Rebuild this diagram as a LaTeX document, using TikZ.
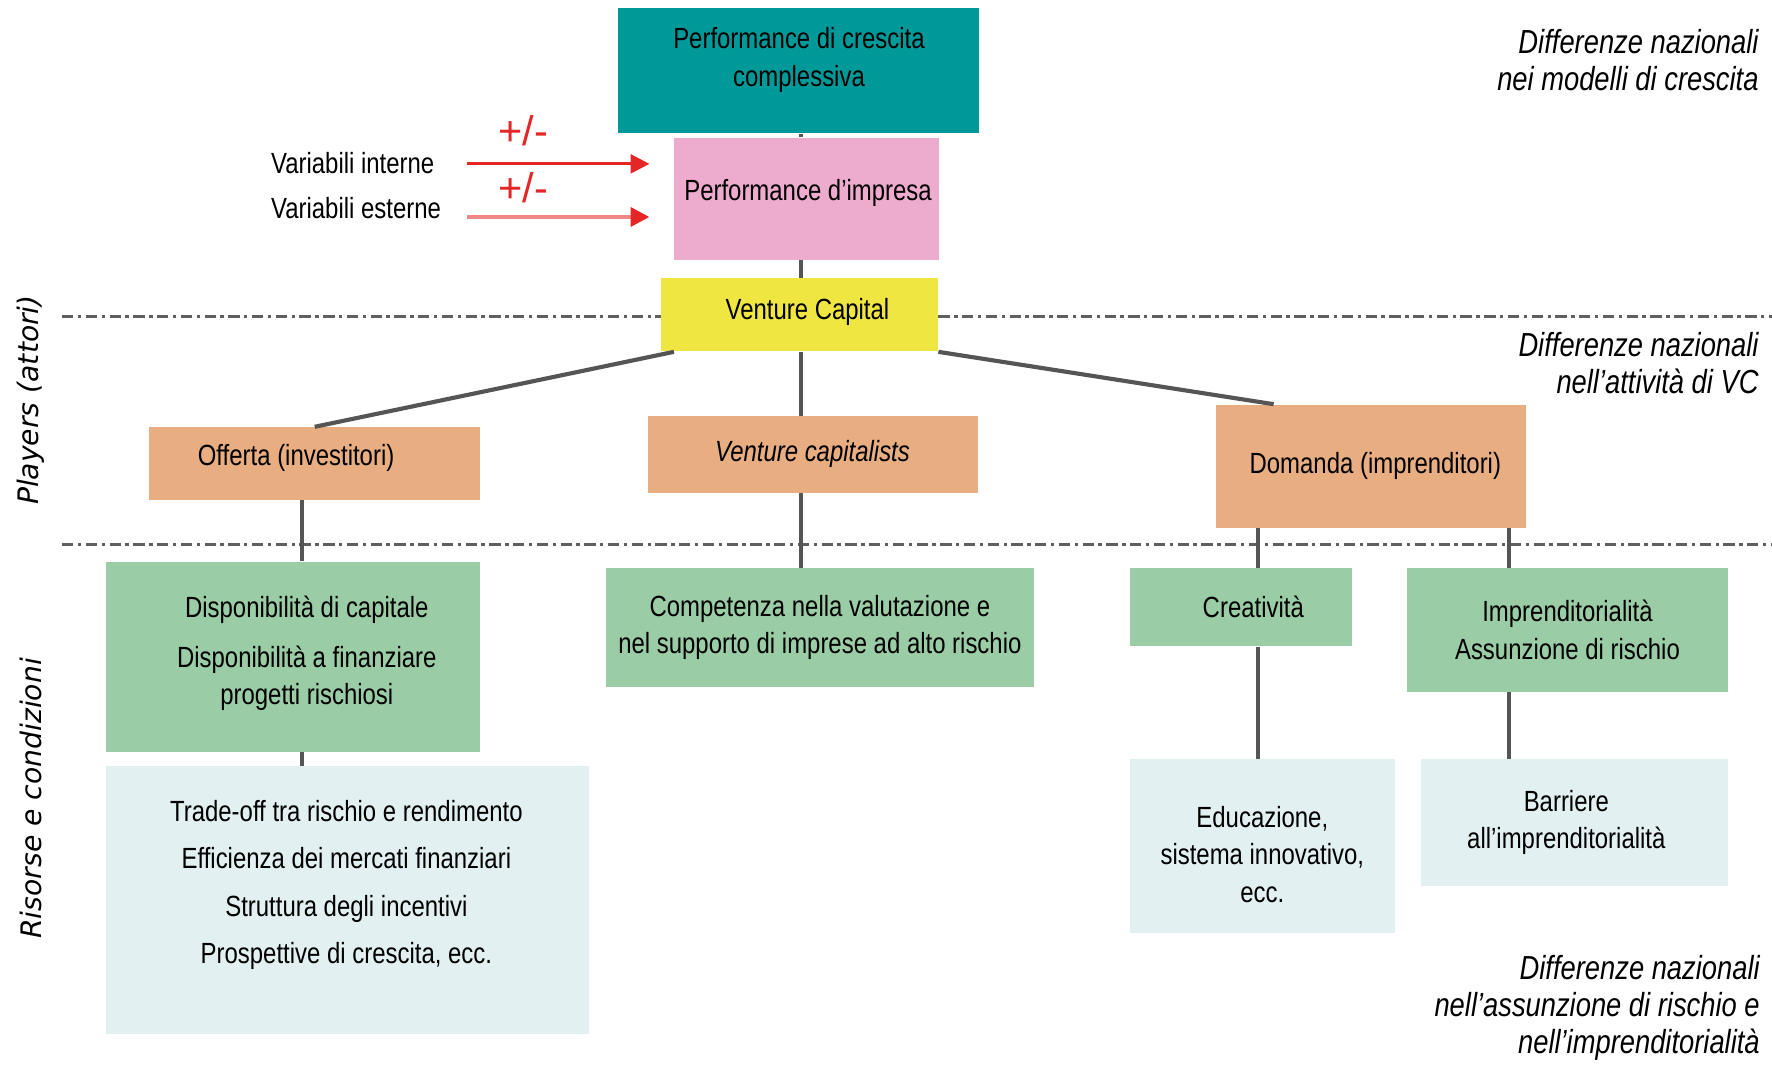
\documentclass[tikz,border=0pt]{standalone}
\usepackage{fontspec}
\setmainfont{Liberation Sans}[FakeStretch=0.82]
\newfontfamily\sidefont{DejaVu Sans}[ItalicFont={DejaVu Sans Oblique}]
\newfontfamily\signfont{Liberation Sans}
\usetikzlibrary{arrows.meta,calc}
\definecolor{growthteal}{RGB}{0,153,153}
\definecolor{firmpink}{RGB}{237,171,206}
\definecolor{vcyellow}{RGB}{240,230,66}
\definecolor{playerorange}{RGB}{232,174,130}
\definecolor{resgreen}{RGB}{154,205,165}
\definecolor{condblue}{RGB}{227,240,241}
\definecolor{linkgray}{RGB}{85,85,85}
\definecolor{sepgray}{RGB}{95,95,95}
\definecolor{arrowred}{RGB}{228,38,38}
\tikzset{
    box/.style={
    rectangle,inner sep=2pt,align=center,text=black,font=\fontsize{15.5}{19.8}\selectfont
    },
    growth/.style={box,fill=growthteal},
    firm/.style={box,fill=firmpink},
    vcbox/.style={box,fill=vcyellow},
    player/.style={box,fill=playerorange},
    resource/.style={box,fill=resgreen},
    condition/.style={box,fill=condblue},
    link/.style={
    draw=linkgray,line width=2.2pt
    },
    sepline/.style={
    draw=sepgray,line width=1.5pt,dash pattern=on 6pt off 2.4pt on 1.8pt off 2.4pt
    },
    influence/.style={
    line width=1.6pt,shorten >=12.6pt,-{Triangle[length=10pt,width=10pt,color=arrowred]}
    },
    varname/.style={anchor=west,font=\fontsize{15.5}{19.8}\selectfont},
    sign/.style={text=arrowred,font=\signfont\fontsize{22}{22}\selectfont},
    note/.style={anchor=east,align=right,font=\fontsize{17.7}{19.5}\selectfont\itshape},
    side/.style={rotate=90,font=\sidefont\itshape\fontsize{15}{18}\selectfont},
}
\begin{document}
\begin{tikzpicture}[x=0.6pt,y=-0.6pt]
  \useasboundingbox (0,0) rectangle (1568,942);

  % livello della crescita
  \node[growth,minimum width=191.4pt,minimum height=66.6pt] (growth) at (706.5,62.5) {};
  \node[box] (growthtext) at (707,53) {Performance di crescita\\complessiva};
  \node[firm,minimum width=141pt,minimum height=64.8pt] (firm) at (713.5,176) {};
  \node[box] (firmtext) at (715,171) {Performance d’impresa};
  \node[vcbox,minimum width=147pt,minimum height=39pt] (vcap) at (707.5,278.5) {};
  \node[box] (vcaptext) at (714.5,276) {Venture Capital};

  % players
  \node[player,minimum width=175.8pt,minimum height=38.4pt] (offerta) at (278.5,410) {};
  \node[box] (offertatext) at (262,405) {Offerta (investitori)};
  \node[player,minimum width=175.2pt,minimum height=40.8pt] (vcs) at (719,402) {\itshape Venture capitalists};
  \node[player,minimum width=164.4pt,minimum height=65.4pt] (domanda) at (1213,412.5) {};
  \node[box] (domandatext) at (1217,412) {Domanda (imprenditori)};

  % risorse
  \node[resource,minimum width=198.6pt,minimum height=100.8pt] (disp) at (259.5,581) {};
  \node[box] (disptext) at (271.5,578) {Disponibilità di capitale\\[6.6pt]Disponibilità a finanziare\\progetti rischiosi};
  \node[resource,minimum width=227.4pt,minimum height=63pt] (compet) at (725.5,555.5) {Competenza nella valutazione e\\nel supporto di imprese ad alto rischio};
  \node[resource,minimum width=117.6pt,minimum height=41.4pt] (creat) at (1098,537.5) {};
  \node[box] (creattext) at (1109,537) {Creatività};
  \node[resource,minimum width=170.4pt,minimum height=65.4pt] (impr) at (1387,557.5) {Imprenditorialità\\Assunzione di rischio};

  % condizioni
  \node[condition,minimum width=256.2pt,minimum height=142.2pt] (condoff) at (307.5,796.5) {};
  \node[box] (condtext) at (306.5,783) {Trade-off tra rischio e rendimento\\[5.4pt]Efficienza dei mercati finanziari\\[5.4pt]Struttura degli incentivi\\[5.4pt]Prospettive di crescita, ecc.};
  \node[condition,minimum width=140.4pt,minimum height=92.4pt] (edu) at (1117,749) {};
  \node[box] (edutext) at (1117,756) {Educazione,\\sistema innovativo,\\ecc.};
  \node[condition,minimum width=163.2pt,minimum height=67.2pt] (barr) at (1393,728) {};
  \node[box] (barrtext) at (1386,728) {Barriere\\all’imprenditorialità};

  % variabili
  \node[varname] (varint) at (234,144) {Variabili interne};
  \node[varname] (varest) at (234,184) {Variabili esterne};
  \node[sign] (signA) at (463,116) {+/-};
  \node[sign] (signB) at (463,166) {+/-};
  \coordinate (inA) at (413,145);
  \coordinate (inB) at (413,192);
  \draw[influence,draw=arrowred] (inA) -- (inA -| firm.west);
  \draw[influence,draw=arrowred!55!white,line width=2.2pt] (inB) -- (inB -| firm.west);

  % note
  \node[note] (noteA) at (1562,53) {Differenze nazionali\\nei modelli di crescita};
  \node[note] (noteB) at (1562,321.5) {Differenze nazionali\\nell’attività di VC};
  \node[note] (noteC) at (1563,892) {Differenze nazionali\\nell’assunzione di rischio e\\nell’imprenditorialità};
  \node[side] (players) at (27,354) {Players (attori)};
  \node[side] (risorse) at (27,706.5) {Risorse e condizioni};

  % separatori
  \coordinate (sepA) at (55,280);
  \coordinate (sepB) at (1568,280);
  \coordinate (sepC) at (55,482);
  \coordinate (sepD) at (1568,482);
  \draw[sepline] (sepA) -- (sepA -| vcap.west);
  \draw[sepline] (sepA -| vcap.east) -- (sepB);
  \draw[sepline] (sepC) -- (sepD);

  % collegamenti
  \draw[link] ([xshift=1.5pt]growth.south) -- ([xshift=1.5pt]growth.south |- firm.north);
  \draw[link] ([xshift=-2.7pt]firm.south) -- ([xshift=-2.7pt]firm.south |- vcap.north);
  \draw[link] ([xshift=0.9pt]vcap.south) -- ([xshift=0.9pt]vcap.south |- vcs.north);
  \draw[link] ([xshift=7pt]vcap.south west) -- (offerta.north);
  \draw[link] (vcap.south east) -- ([xshift=-51.6pt]domanda.north);
  \draw[link] ([xshift=-6.9pt]offerta.south) -- ([xshift=-6.9pt]offerta.south |- disp.north);
  \draw[link] ([xshift=4.5pt]disp.south) -- ([xshift=4.5pt]disp.south |- condoff.north);
  \draw[link] ([xshift=-6pt]vcs.south) -- ([xshift=-6pt]vcs.south |- compet.north);
  \draw[link] ([xshift=9pt]creat.north) -- ([xshift=9pt]creat.north |- domanda.south);
  \draw[link] ([xshift=9pt]creat.south) -- ([xshift=9pt]creat.south |- edu.north);
  \draw[link] ([xshift=-31.2pt]impr.north) -- ([xshift=-31.2pt]impr.north |- domanda.south);
  \draw[link] ([xshift=-31.2pt]impr.south) -- ([xshift=-31.2pt]impr.south |- barr.north);
\end{tikzpicture}
\end{document}
